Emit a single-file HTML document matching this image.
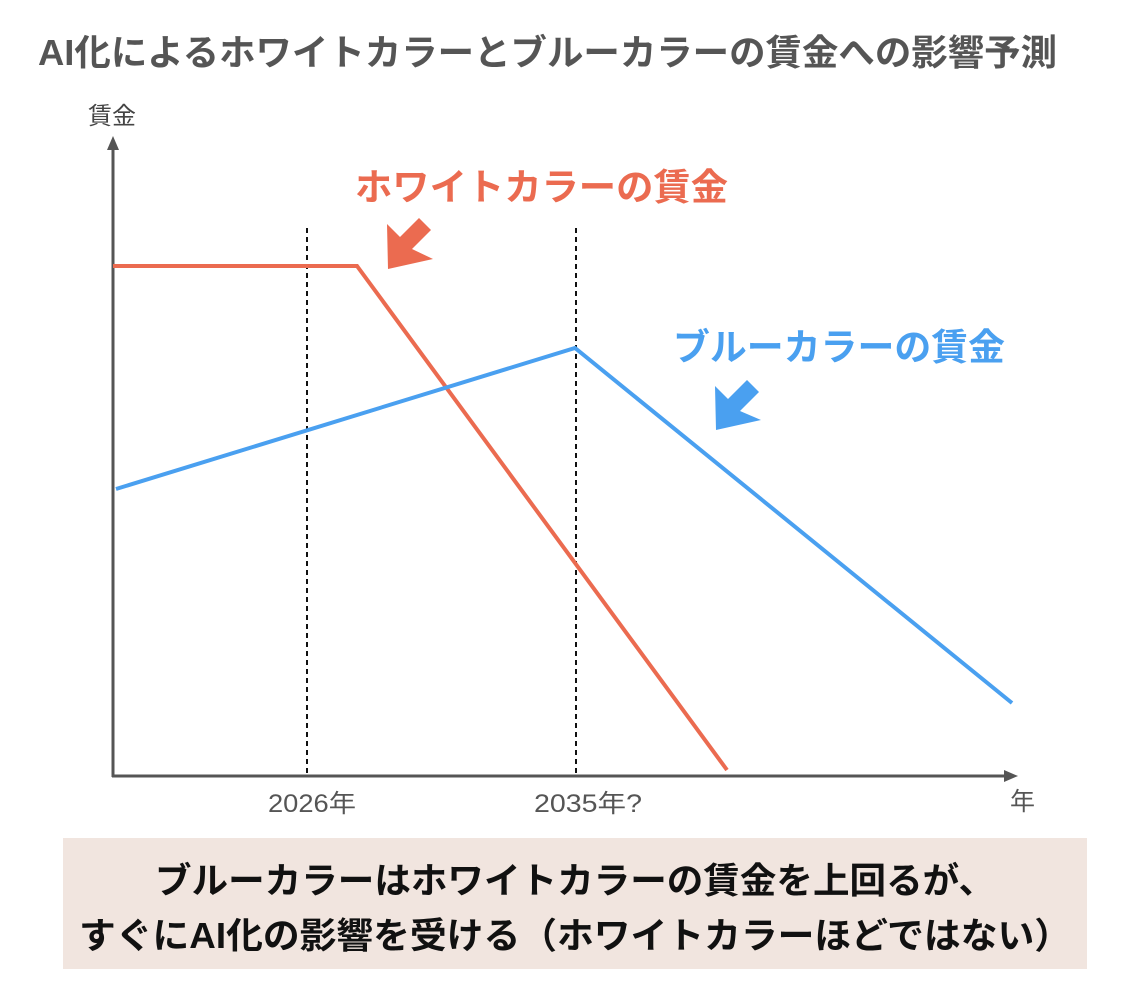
<!DOCTYPE html>
<html><head><meta charset="utf-8"><style>
body{margin:0;width:1134px;height:996px;background:#fff;overflow:hidden;font-family:"Liberation Sans","Noto Sans CJK JP",sans-serif;}
</style></head><body>
<svg width="1134" height="996" xmlns="http://www.w3.org/2000/svg" style="position:absolute;left:0;top:0">
<text x="38" y="65" font-size="36" font-weight="bold" fill="#555" textLength="1019" lengthAdjust="spacingAndGlyphs" font-family="Liberation Sans, Noto Sans CJK JP, sans-serif">AI化によるホワイトカラーとブルーカラーの賃金への影響予測</text>
<text x="88" y="124" font-size="24" fill="#444" font-family="Liberation Sans, Noto Sans CJK JP, sans-serif">賃金</text>
<line x1="113" y1="146" x2="113" y2="777" stroke="#555" stroke-width="3"/>
<polygon points="113,136 107,150 119,150" fill="#555"/>
<line x1="112" y1="776" x2="1008" y2="776" stroke="#555" stroke-width="3"/>
<polygon points="1018,776 1004,770 1004,782" fill="#555"/>
<line x1="307" y1="228" x2="307" y2="776" stroke="#111" stroke-width="2" stroke-dasharray="5,4"/>
<line x1="576" y1="228" x2="576" y2="776" stroke="#111" stroke-width="2" stroke-dasharray="5,4"/>
<polyline points="113,266 357,266 727,770" fill="none" stroke="#eb6b50" stroke-width="4"/>
<polyline points="116,489 575,348 1012,703" fill="none" stroke="#4aa0f0" stroke-width="4"/>
<text x="355" y="200" font-size="37" font-weight="bold" fill="#eb6b50" textLength="373" lengthAdjust="spacingAndGlyphs" font-family="Liberation Sans, Noto Sans CJK JP, sans-serif">ホワイトカラーの賃金</text>
<text x="673" y="360" font-size="37" font-weight="bold" fill="#4aa0f0" textLength="332" lengthAdjust="spacingAndGlyphs" font-family="Liberation Sans, Noto Sans CJK JP, sans-serif">ブルーカラーの賃金</text>
<polygon points="388,269 387,224 400,237 419,218 431,230 412,249 433,259" fill="#eb6b50"/>
<polygon points="716,430 715,386 728,399 747,380 759,392 740,411 761,420" fill="#4aa0f0"/>
<text x="312" y="812" font-size="25" fill="#555" text-anchor="middle" textLength="88" lengthAdjust="spacingAndGlyphs" font-family="Liberation Sans, Noto Sans CJK JP, sans-serif">2026年</text>
<text x="588" y="812" font-size="25" fill="#555" text-anchor="middle" textLength="108" lengthAdjust="spacingAndGlyphs" font-family="Liberation Sans, Noto Sans CJK JP, sans-serif">2035年?</text>
<text x="1010" y="810" font-size="25" fill="#555" font-family="Liberation Sans, Noto Sans CJK JP, sans-serif">年</text>
<rect x="63" y="838" width="1024" height="131" fill="#f1e5df"/>
<text x="575" y="893" font-size="36" font-weight="bold" fill="#111" text-anchor="middle" textLength="840" lengthAdjust="spacingAndGlyphs" font-family="Liberation Sans, Noto Sans CJK JP, sans-serif">ブルーカラーはホワイトカラーの賃金を上回るが、</text>
<text x="575" y="948" font-size="36" font-weight="bold" fill="#111" text-anchor="middle" textLength="992" lengthAdjust="spacingAndGlyphs" font-family="Liberation Sans, Noto Sans CJK JP, sans-serif">すぐにAI化の影響を受ける（ホワイトカラーほどではない）</text>
</svg>
</body></html>
